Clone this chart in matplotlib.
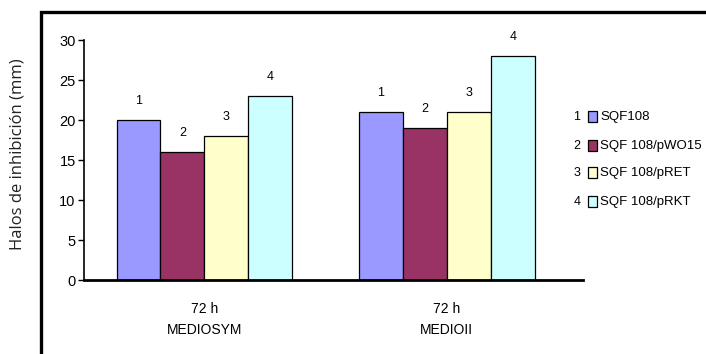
import matplotlib
matplotlib.use("Agg")
import matplotlib.pyplot as plt
from matplotlib.patches import Rectangle
import numpy as np

categories = ["72 h\nMEDIOSYM", "72 h\nMEDIOII"]
series_names = ["SQF108", "SQF 108/pWO15", "SQF 108/pRET", "SQF 108/pRKT"]
series_nums = ["1", "2", "3", "4"]
values = [
    [20, 21],
    [16, 19],
    [18, 21],
    [23, 28],
]
colors = ["#9999FF", "#993366", "#FFFFCC", "#CCFFFF"]
yticks = [0, 5, 10, 15, 20, 25, 30]

sans = ["Liberation Sans", "DejaVu Sans"]

W, H = 706, 354
fig = plt.figure(figsize=(W/100, H/100), dpi=100)
ax = fig.add_axes([84/W, 1-280/H, (583-84)/W, (280-40)/H])

x = np.arange(len(categories))
w = 0.181
for i, (vals, c) in enumerate(zip(values, colors)):
    pos = x + (i - 1.5) * w
    ax.bar(pos, vals, width=w, color=c, edgecolor="black", linewidth=0.9, zorder=2)
    for p, v in zip(pos, vals):
        ax.annotate(series_nums[i], (p, v), xytext=(0, 14), textcoords="offset points",
                    ha="center", va="center", fontsize=9, family=sans)

ax.set_xlim(-0.496, 1.561)
ax.set_ylim(0, 30)
ax.set_yticks(yticks)
ax.set_yticklabels([str(t) for t in yticks], family=sans, fontsize=10.5)
ax.set_xticks(x)
ax.set_xticklabels(categories, family=sans, fontsize=10, linespacing=1.6)
ax.tick_params(axis="x", length=0, pad=16)
ax.tick_params(axis="y", direction="out", length=4, width=1, pad=2)
for s in ["top", "right"]:
    ax.spines[s].set_visible(False)
ax.spines["left"].set_linewidth(1.2)
ax.spines["bottom"].set_linewidth(2)

fig.text(18/W, 1-154/H, "Halos de inhibición (mm)", rotation=90, ha="center", va="center",
         fontsize=12, family=["Open Sans", "DejaVu Sans"], color="#222222")

# legend drawn manually
leg_y = [117, 146, 173, 202]
for i, name in enumerate(series_names):
    yy = 1 - leg_y[i]/H
    fig.text(577/W, yy, series_nums[i], ha="center", va="center", fontsize=9, family=sans)
    fig.patches.append(Rectangle((588/W, yy - 5/H), 9/W, 11/H, transform=fig.transFigure,
                                 facecolor=colors[i], edgecolor="black", linewidth=0.9))
    fig.text(600/W, yy, name, ha="left", va="center", fontsize=9.5, family=sans)

# outer frame
fig.patches.append(Rectangle((41/W, -0.1), 1.0, 1 - 12/H + 0.1, transform=fig.transFigure,
                             facecolor="none", edgecolor="black", linewidth=2.4))

fig.savefig("out.png", dpi=100)
